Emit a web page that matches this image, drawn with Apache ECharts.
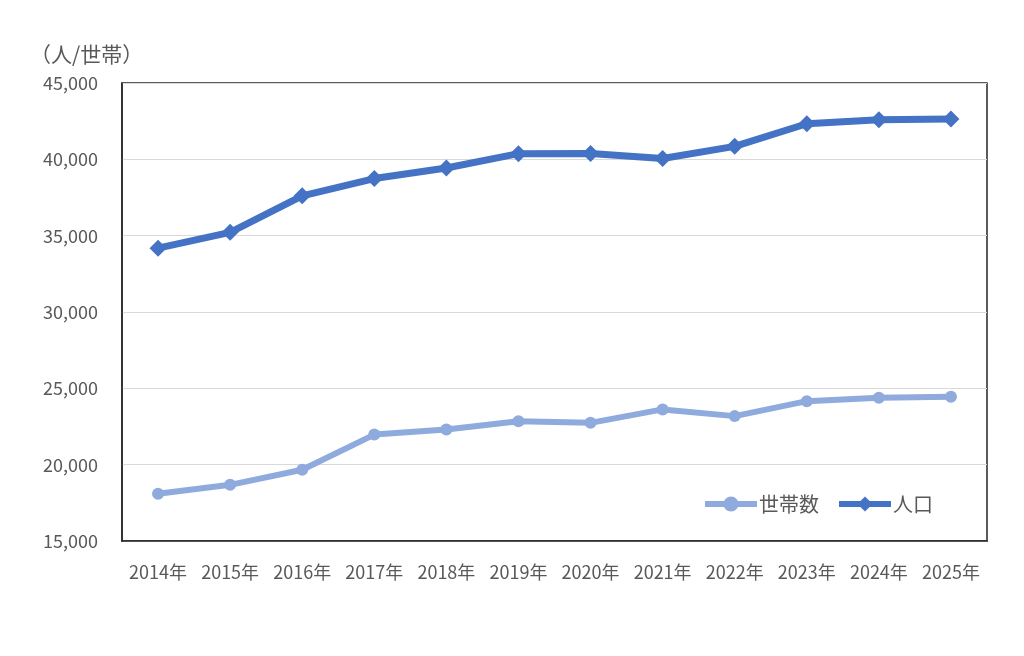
<!DOCTYPE html>
<html><head><meta charset="utf-8">
<script src="https://cdn.jsdelivr.net/npm/echarts@6/dist/echarts.min.js"></script>
<style>html,body{margin:0;padding:0;background:#fff}#c{width:1024px;height:656px}</style>
</head><body><div id="c"></div>
<script>
const categories = ['2014年','2015年','2016年','2017年','2018年','2019年','2020年','2021年','2022年','2023年','2024年','2025年'];
const households = [18090, 18680, 19670, 21970, 22300, 22850, 22740, 23620, 23180, 24160, 24380, 24450];
const population = [34180, 35220, 37610, 38740, 39430, 40370, 40380, 40050, 40850, 42330, 42600, 42640];
const seriesNames = ['世帯数', '人口'];
const unitLabel = '（人/世帯）';
const yMin = 15000, yMax = 45000, yStep = 5000;

const font = "'Noto Sans CJK JP', 'Noto Sans', sans-serif";
const chart = echarts.init(document.getElementById('c'), null, {renderer: 'canvas'});
chart.setOption({
  animation: false,
  backgroundColor: '#fff',
  textStyle: {fontFamily: font},
  graphic: [{
    type: 'text', left: 30, top: 44,
    style: {text: unitLabel, fill: '#595959', font: '21px ' + font}
  }],
  grid: {left: 122, right: 37, top: 83, bottom: 115, show: true, borderColor: '#262626', borderWidth: 1.5, containLabel: false},
  legend: {
    data: seriesNames,
    right: 86, top: 489,
    itemWidth: 52, itemHeight: 19, itemGap: 17,
    lineStyle: {width: 6},
    textStyle: {color: '#595959', fontSize: 20, fontFamily: font, padding: [0, 0, 0, -3]}
  },
  xAxis: {
    type: 'category', data: categories, boundaryGap: true,
    axisLine: {lineStyle: {color: '#262626', width: 1.5}},
    axisTick: {alignWithLabel: true, inside: true, length: 5, lineStyle: {color: '#262626'}},
    axisLabel: {color: '#595959', fontSize: 18, margin: 22, fontFamily: font, interval: 0}
  },
  yAxis: {
    type: 'value', min: yMin, max: yMax, interval: yStep,
    axisLine: {show: true, lineStyle: {color: '#262626', width: 1.5}},
    axisTick: {show: false},
    splitLine: {lineStyle: {color: '#d9d9d9', width: 1.2}},
    axisLabel: {color: '#595959', fontSize: 18, margin: 24, fontFamily: font,
      formatter: v => v.toLocaleString('en-US')}
  },
  series: [
    {name: seriesNames[0], type: 'line', data: households,
     symbol: 'circle', symbolSize: 12,
     lineStyle: {color: '#8FAADC', width: 6},
     itemStyle: {color: '#8FAADC'}},
    {name: seriesNames[1], type: 'line', data: population,
     symbol: 'diamond', symbolSize: 17,
     lineStyle: {color: '#4472C4', width: 7},
     itemStyle: {color: '#4472C4'}}
  ]
});
</script></body></html>
